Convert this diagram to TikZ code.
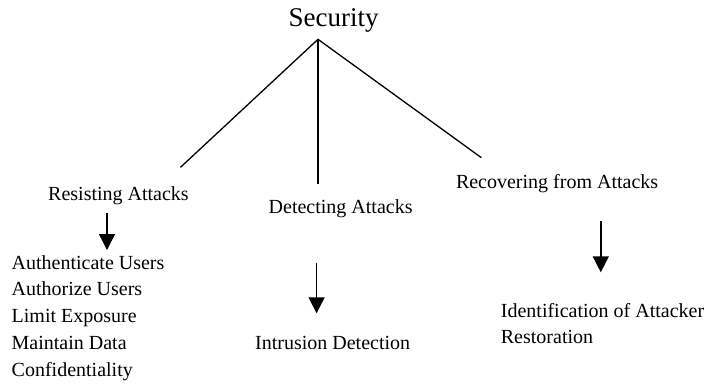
\documentclass[tikz,border=0pt]{standalone}
\usepackage{fontspec}
\setmainfont{Liberation Serif}
\usetikzlibrary{arrows.meta}

\begin{document}
\begin{tikzpicture}[x=1pt,y=-1pt]
                        \tikzset{lbl/.style={anchor=base west, inner sep=0pt, font=\fontsize{20}{24}\selectfont},
                                 down/.style={-{Triangle[length=16pt,width=16pt]}, line width=1.4pt}}
                        \useasboundingbox (0,0) rectangle (704,383);
                        \node [anchor=base, inner sep=0pt, font=\fontsize{27}{32}\selectfont] (sec) at (333.6,26.5) {Security};
                        \coordinate (top) at (318,39.3);
                        \coordinate (resend) at (180.5,167.3);
                        \coordinate (detend) at (318,184.3);
                        \coordinate (recend) at (481.4,157.7);
                        \draw [line width=1.3pt] (resend) -- (top) -- (recend);
                        \draw [line width=1.3pt] (top) -- (detend);
                        \node [lbl] (res) at (48,200) {Resisting Attacks};
                        \node [lbl] (det) at (268.5,213) {Detecting Attacks};
                        \node [lbl] (rec) at (455.8,188) {Recovering from Attacks};
                        \foreach \t [count=\i] in {Authenticate Users,Authorize Users,Limit Exposure,Maintain Data,Confidentiality}
                        {
                            \node [lbl] (res\i) at (11.5,{269+26.75*(\i-1)}) {\t};
                        }
                        \node [lbl] (det1) at (255,349) {Intrusion Detection};
                        \node [lbl] (rec1) at (500.7,317.5) {Identification of Attacker};
                        \node [lbl] (rec2) at (500.7,343) {Restoration};
                        \coordinate (a1) at (107,213);   \coordinate (b1) at (107,250);
                        \coordinate (a2) at (316.6,262.7); \coordinate (b2) at (316.6,313.3);
                        \coordinate (a3) at (600.8,221); \coordinate (b3) at (600.8,272.3);
                        \foreach \i in {1,2,3}
                            \draw [down] (a\i) -- (b\i);
                    \end{tikzpicture}
\end{document}
